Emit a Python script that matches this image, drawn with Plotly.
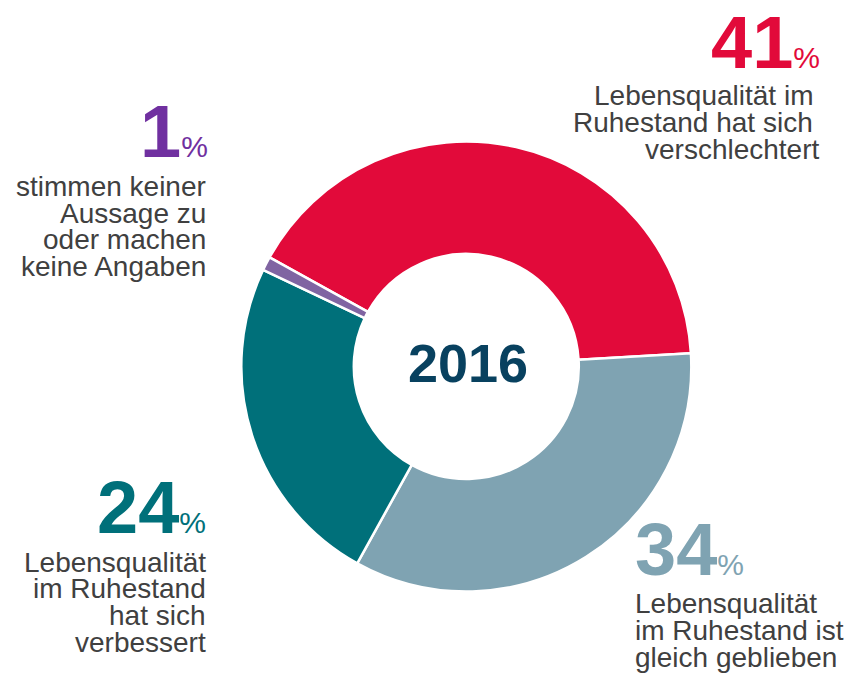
import plotly.graph_objects as go

# ---- data ----
categories = [
    "Lebensqualität im Ruhestand hat sich verschlechtert",
    "Lebensqualität im Ruhestand ist gleich geblieben",
    "Lebensqualität im Ruhestand hat sich verbessert",
    "stimmen keiner Aussage zu oder machen keine Angaben",
]
values = [41, 34, 24, 1]
slice_colors = ["#E20A3A", "#7FA3B2", "#00707A", "#8064A2"]
number_colors = ["#E20A3A", "#7FA3B2", "#00707A", "#7030A0"]
label_lines = [
    ["Lebensqualität im", "Ruhestand hat sich", "verschlechtert"],
    ["Lebensqualität", "im Ruhestand ist", "gleich geblieben"],
    ["Lebensqualität", "im Ruhestand", "hat sich", "verbessert"],
    ["stimmen keiner", "Aussage zu", "oder machen", "keine Angaben"],
]
center_label = "2016"

W, H = 856, 676
FONT = "Liberation Sans, Arial, sans-serif"
TEXT_COLOR = "#404040"
NUM_SIZE = 74
TXT_SIZE = 28

fig = go.Figure()

# donut geometry in pixels
cx, cy, R = 466.3, 366.5, 225
fig.add_trace(go.Pie(
    labels=categories,
    values=values,
    sort=False,
    direction="clockwise",
    rotation=-61,
    hole=0.5,
    marker=dict(colors=slice_colors, line=dict(color="white", width=2.5)),
    textinfo="none",
    hoverinfo="label+percent",
    showlegend=False,
    domain=dict(x=[(cx - R) / W, (cx + R) / W], y=[(H - cy - R) / H, (H - cy + R) / H]),
))


def px_x(x):
    return x / W


def px_y(y):
    return 1 - y / H


annotations = []


def add_text(text, x, baseline, anchor, size, color, bold=False):
    annotations.append(dict(
        text=f"<b>{text}</b>" if bold else text,
        x=px_x(x), y=px_y(baseline - 0.35 * size),
        xref="paper", yref="paper",
        xanchor=anchor, yanchor="middle",
        showarrow=False,
        font=dict(family=FONT, size=size, color=color),
        borderpad=0,
    ))


def pct_text(v):
    return f"<b>{v}</b><span style='font-size:30px'>%</span>"


# number labels: (x, baseline, anchor)
num_pos = [(821, 68, "right"), (634, 575, "left"), (207, 533, "right"), (209, 157, "right")]
for v, col, (x, b, a) in zip(values, number_colors, num_pos):
    annotations.append(dict(
        text=pct_text(v),
        x=px_x(x), y=px_y(b - 0.35 * NUM_SIZE),
        xref="paper", yref="paper",
        xanchor=a, yanchor="middle", showarrow=False,
        font=dict(family=FONT, size=NUM_SIZE, color=col),
        borderpad=0,
    ))

# text lines: per block (x positions per line, baselines)
line_pos = [
    ([814, 814, 821], [105, 132, 159], "right"),
    ([634, 634, 634], [613, 640, 667], "left"),
    ([207, 207, 207, 207], [572, 598, 625, 652], "right"),
    ([207, 207, 207, 207], [196, 223, 249, 276], "right"),
]
for lines, (xs, bs, a) in zip(label_lines, line_pos):
    for t, x, b in zip(lines, xs, bs):
        add_text(t, x, b, a, TXT_SIZE, TEXT_COLOR)

# center label
add_text(center_label, 467.5, 382, "center", 54, "#08415F", bold=True)

fig.update_layout(
    width=W, height=H,
    margin=dict(l=0, r=0, t=0, b=0),
    paper_bgcolor="white",
    plot_bgcolor="white",
    annotations=annotations,
    font=dict(family=FONT),
)

fig.write_html(
    "out.html",
    config={"displayModeBar": False},
    post_script="document.body.style.margin='0';document.body.style.overflow='hidden';",
)
